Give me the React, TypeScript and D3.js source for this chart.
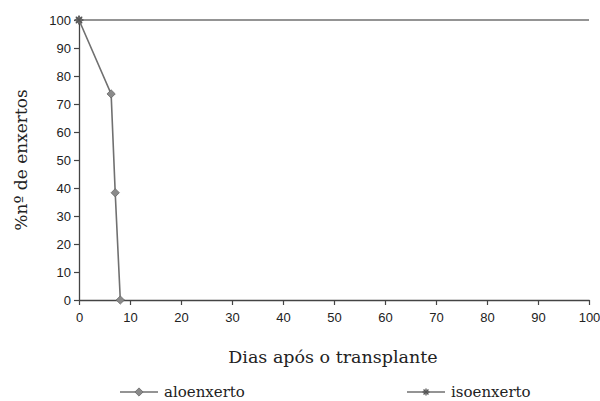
import * as d3 from 'd3';
import { useEffect, useRef } from 'react';

const aloDays = [0, 6.3, 7.1, 8.1];
const aloValues = [100, 73.6, 38.3, 0];
const isoDays = [0, 100];
const isoValues = [100, 100];
const xTicks = [0, 10, 20, 30, 40, 50, 60, 70, 80, 90, 100];
const yTicks = [0, 10, 20, 30, 40, 50, 60, 70, 80, 90, 100];
const seriesNames = ['aloenxerto', 'isoenxerto'];

const App = () => {
  const svgRef = useRef<SVGSVGElement>(null);
  const width = 600;
  const height = 401;
  const marginLeft = 79;
  const marginRight = 11;
  const marginTop = 20;
  const marginBottom = 101;

  useEffect(() => {
    const svg = d3.select(svgRef.current);
    svg.selectAll('*').remove();

    const lineColor = '#707070';
    const textColor = '#222';
    const serif = 'DejaVu Serif, serif';

    const x = d3.scaleLinear().domain([0, 100]).range([marginLeft, width - marginRight]);
    const y = d3.scaleLinear().domain([0, 100]).range([height - marginBottom, marginTop]);

    const xAxis = svg
      .append('g')
      .attr('transform', `translate(0,${height - marginBottom})`)
      .call(d3.axisBottom(x).tickValues(xTicks).tickSize(5).tickSizeOuter(0));
    xAxis.selectAll('text').attr('dy', '1.1em');

    const yAxis = svg
      .append('g')
      .attr('transform', `translate(${marginLeft},0)`)
      .call(d3.axisLeft(y).tickValues(yTicks).tickSize(5).tickSizeOuter(0));

    [xAxis, yAxis].forEach((g) => {
      g.select('.domain').attr('stroke', '#444').attr('stroke-width', 1.3);
      g.selectAll('.tick line').attr('stroke', '#444').attr('stroke-width', 1.2);
      g.selectAll('.tick text')
        .attr('fill', textColor)
        .attr('font-family', 'Liberation Sans, Arial, sans-serif')
        .attr('font-size', 13);
    });

    const line = d3
      .line<[number, number]>()
      .x((d) => x(d[0]))
      .y((d) => y(d[1]));

    const aloData: [number, number][] = aloDays.map((d, i) => [d, aloValues[i]]);
    const isoData: [number, number][] = isoDays.map((d, i) => [d, isoValues[i]]);

    svg
      .append('path')
      .datum(isoData)
      .attr('d', line)
      .attr('fill', 'none')
      .attr('stroke', lineColor)
      .attr('stroke-width', 1.6);

    svg
      .append('path')
      .datum(aloData)
      .attr('d', line)
      .attr('fill', 'none')
      .attr('stroke', lineColor)
      .attr('stroke-width', 1.6);

    // losango: quadrado girado 45°
    const diamond = d3.symbol().type(d3.symbolSquare).size(34);
    const star = (cx: number, cy: number, r: number) => {
      const g = svg.append('g').attr('transform', `translate(${cx},${cy})`);
      [0, 45, 90, 135].forEach((a) =>
        g
          .append('line')
          .attr('x1', -r * Math.cos((a * Math.PI) / 180))
          .attr('y1', -r * Math.sin((a * Math.PI) / 180))
          .attr('x2', r * Math.cos((a * Math.PI) / 180))
          .attr('y2', r * Math.sin((a * Math.PI) / 180))
          .attr('stroke', '#555')
          .attr('stroke-width', 1.3)
      );
    };

    svg
      .selectAll('.alo')
      .data(aloData)
      .enter()
      .append('path')
      .attr('d', diamond)
      .attr('transform', (d) => `translate(${x(d[0])},${y(d[1])}) rotate(45)`)
      .attr('fill', '#8a8a8a')
      .attr('stroke', '#6a6a6a')
      .attr('stroke-width', 0.8);

    star(x(isoData[0][0]), y(isoData[0][1]), 4.5);

    svg
      .append('text')
      .attr('x', 333)
      .attr('y', 363)
      .attr('text-anchor', 'middle')
      .attr('font-family', serif)
      .attr('font-size', 17.5)
      .attr('fill', textColor)
      .text('Dias após o transplante');

    svg
      .append('text')
      .attr('transform', `translate(27,${(marginTop + height - marginBottom) / 2}) rotate(-90)`)
      .attr('text-anchor', 'middle')
      .attr('font-family', serif)
      .attr('font-size', 17)
      .attr('fill', textColor)
      .text('%nº de enxertos');

    // legenda
    const legendItems = [
      { name: seriesNames[0], x0: 120, marker: 'diamond' },
      { name: seriesNames[1], x0: 407, marker: 'star' },
    ];
    const ly = 392;
    legendItems.forEach((it) => {
      svg
        .append('line')
        .attr('x1', it.x0)
        .attr('x2', it.x0 + 38)
        .attr('y1', ly)
        .attr('y2', ly)
        .attr('stroke', lineColor)
        .attr('stroke-width', 1.6);
      if (it.marker === 'diamond') {
        svg
          .append('path')
          .attr('d', diamond)
          .attr('transform', `translate(${it.x0 + 19},${ly}) rotate(45)`)
          .attr('fill', '#8a8a8a')
          .attr('stroke', '#6a6a6a')
          .attr('stroke-width', 0.8);
      } else {
        star(it.x0 + 19, ly, 3.5);
      }
      svg
        .append('text')
        .attr('x', it.x0 + 44)
        .attr('y', ly + 5)
        .attr('font-family', serif)
        .attr('font-size', 15)
        .attr('fill', textColor)
        .text(it.name);
    });
  }, []);

  return (
    <svg
      ref={svgRef}
      width={width}
      height={height}
      style={{ position: 'absolute', left: 0, top: 0, background: '#fff' }}
    />
  );
};

export default App;
